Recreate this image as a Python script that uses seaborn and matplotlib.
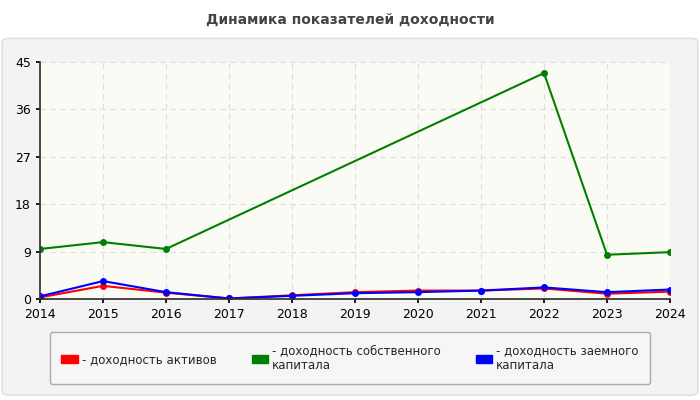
import numpy as np
import pandas as pd
import matplotlib
matplotlib.use("Agg")
import matplotlib.pyplot as plt
import seaborn as sns
from matplotlib.patches import FancyBboxPatch, Patch

years = list(range(2014, 2025))
roa = [0.3, 2.5, 1.2, 0.1, 0.7, 1.3, 1.6, 1.6, 2.0, 1.0, 1.4]
roe = [9.5, 10.8, 9.5, np.nan, np.nan, np.nan, np.nan, np.nan, 42.9, 8.4, 8.9]
rod = [0.5, 3.4, 1.3, 0.1, 0.6, 1.1, 1.3, 1.6, 2.2, 1.3, 1.8]
names = ["- доходность активов", "- доходность собственного\nкапитала", "- доходность заемного\nкапитала"]
colors = ["#ff0000", "#008000", "#0000ff"]

sns.set_theme(style="white")
plt.rcParams['font.family'] = ['DejaVu Sans']

fig = plt.figure(figsize=(7, 4), dpi=100)
fig.patch.set_facecolor("white")
fig.patches.append(FancyBboxPatch((0.003, 0.012), 0.994, 0.892, boxstyle="round,pad=0,rounding_size=0.01",
                                  transform=fig.transFigure, facecolor="#f3f3f3", edgecolor="#dddddd", zorder=-5))
fig.text(0.5, 0.95, "Динамика показателей доходности", ha="center", va="center",
         fontsize=10, fontweight="bold", color="#444444")

ax = fig.add_axes([40/700, 1-299/400, 630/700, 237/400], zorder=2)
ax.set_facecolor("#fbfbf6")
df = pd.DataFrame({"year": years, "roa": roa, "roe": roe, "rod": rod})
for col, c, n in zip(["roa", "roe", "rod"], colors, names):
    sns.lineplot(data=df, x="year", y=col, ax=ax, color=c, marker="o", markersize=5,
                 markeredgewidth=0, linewidth=1.5, label=n)

ax.set_xlim(2014, 2024)
ax.set_ylim(0, 45)
ax.set_xticks(years)
ax.set_yticks([0, 9, 18, 27, 36, 45])
ax.tick_params(labelsize=9, colors="black", length=3, left=True, bottom=True)
ax.set_xlabel("")
ax.set_ylabel("")
ax.grid(True, linestyle=(0, (5, 4)), color="#dddddd", linewidth=0.8)
for s in ["top", "right"]:
    ax.spines[s].set_visible(False)
for s in ["left", "bottom"]:
    ax.spines[s].set_color("#333333")
ax.legend_.remove()

handles = [Patch(facecolor=c, edgecolor=c) for c in colors]
leg = fig.legend(handles, names, loc="center", bbox_to_anchor=(350/700, 1-358/400), ncol=3,
                 fontsize=8.5, frameon=True, handlelength=1.4, handleheight=0.7,
                 columnspacing=3.0, borderpad=1.0, handletextpad=0.3)
leg.set_zorder(3)
leg.get_frame().set_edgecolor("#999999")
leg.get_frame().set_facecolor("#f7f7f7")

fig.savefig("out.png", dpi=100)
